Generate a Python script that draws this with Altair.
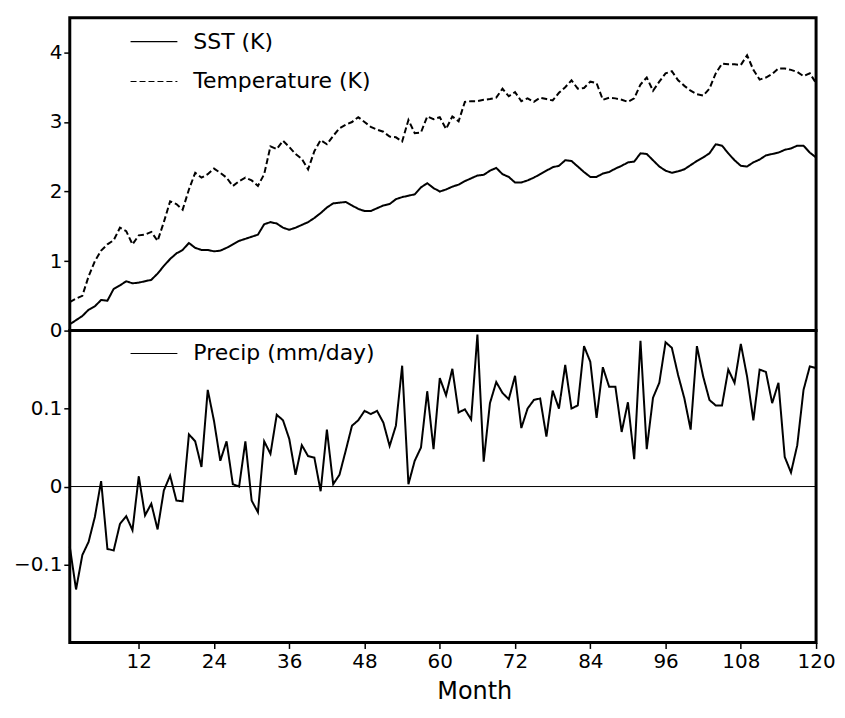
import altair as alt
import pandas as pd

months = list(range(1, 121))

sst = [
    0.09, 0.15, 0.21, 0.30, 0.35, 0.44, 0.43, 0.60, 0.65, 0.71,
    0.68, 0.69, 0.71, 0.73, 0.82, 0.93, 1.03, 1.11, 1.16, 1.26,
    1.19, 1.16, 1.16, 1.14, 1.15, 1.19, 1.24, 1.29, 1.32, 1.35,
    1.38, 1.53, 1.56, 1.54, 1.48, 1.45, 1.48, 1.52, 1.56, 1.62,
    1.69, 1.77, 1.83, 1.84, 1.85, 1.80, 1.75, 1.72, 1.72, 1.76,
    1.80, 1.82, 1.89, 1.92, 1.94, 1.96, 2.06, 2.12, 2.05, 2.00,
    2.03, 2.07, 2.10, 2.15, 2.19, 2.23, 2.24, 2.30, 2.34, 2.25,
    2.21, 2.13, 2.13, 2.16, 2.20, 2.25, 2.30, 2.35, 2.37, 2.45,
    2.44, 2.36, 2.28, 2.21, 2.21, 2.26, 2.28, 2.33, 2.37, 2.42,
    2.43, 2.55, 2.54, 2.45, 2.36, 2.30, 2.27, 2.29, 2.32, 2.38,
    2.44, 2.49, 2.55, 2.68, 2.66, 2.55, 2.45, 2.37, 2.36, 2.42,
    2.46, 2.52, 2.54, 2.56, 2.60, 2.62, 2.66, 2.66, 2.56, 2.49,
]

temperature = [
    0.41, 0.46, 0.50, 0.78, 1.00, 1.15, 1.24, 1.30, 1.48, 1.43,
    1.24, 1.37, 1.38, 1.42, 1.29, 1.56, 1.86, 1.82, 1.74, 2.03,
    2.27, 2.20, 2.25, 2.33, 2.27, 2.20, 2.08, 2.15, 2.20, 2.16,
    2.08, 2.25, 2.65, 2.61, 2.73, 2.64, 2.54, 2.47, 2.32, 2.58,
    2.74, 2.68, 2.80, 2.91, 2.96, 3.00, 3.07, 3.00, 2.93, 2.89,
    2.86, 2.79, 2.78, 2.72, 3.03, 2.84, 2.85, 3.08, 3.04, 3.07,
    2.90, 3.08, 3.01, 3.29, 3.30, 3.30, 3.32, 3.33, 3.35, 3.48,
    3.37, 3.43, 3.30, 3.34, 3.29, 3.35, 3.33, 3.31, 3.42, 3.50,
    3.60, 3.48, 3.49, 3.58, 3.56, 3.32, 3.35, 3.34, 3.32, 3.29,
    3.34, 3.54, 3.64, 3.45, 3.58, 3.70, 3.73, 3.60, 3.52, 3.45,
    3.40, 3.38, 3.48, 3.70, 3.84, 3.83, 3.83, 3.82, 3.96, 3.75,
    3.61, 3.64, 3.69, 3.77, 3.77, 3.75, 3.72, 3.66, 3.70, 3.56,
]

precip = [
    -0.077, -0.132, -0.088, -0.071, -0.039, 0.007, -0.080, -0.082, -0.048, -0.038,
    -0.056, 0.013, -0.037, -0.022, -0.055, -0.005, 0.014, -0.018, -0.019, 0.067,
    0.058, 0.025, 0.124, 0.084, 0.033, 0.058, 0.003, 0.000, 0.058, -0.018,
    -0.033, 0.058, 0.042, 0.092, 0.085, 0.061, 0.015, 0.053, 0.039, 0.037,
    -0.006, 0.073, 0.003, 0.015, 0.046, 0.078, 0.085, 0.097, 0.093, 0.097,
    0.082, 0.052, 0.078, 0.155, 0.003, 0.033, 0.050, 0.122, 0.048, 0.139,
    0.117, 0.151, 0.095, 0.099, 0.086, 0.195, 0.032, 0.107, 0.134, 0.120,
    0.112, 0.142, 0.075, 0.100, 0.111, 0.113, 0.064, 0.123, 0.100, 0.156,
    0.100, 0.104, 0.180, 0.160, 0.088, 0.153, 0.128, 0.128, 0.070, 0.108,
    0.035, 0.187, 0.048, 0.114, 0.133, 0.185, 0.178, 0.143, 0.113, 0.073,
    0.180, 0.141, 0.111, 0.104, 0.104, 0.150, 0.133, 0.183, 0.141, 0.085,
    0.150, 0.147, 0.107, 0.133, 0.038, 0.018, 0.053, 0.124, 0.154, 0.152,
]

top_labels = ["SST (K)", "Temperature (K)"]
bottom_label = "Precip (mm/day)"
top_ticks = [0, 1, 2, 3, 4]
bottom_ticks = [-0.1, 0, 0.1]
month_ticks = [12, 24, 36, 48, 60, 72, 84, 96, 108, 120]
zero_level = [0]

FONT = "DejaVu Sans"
PLOT_W = 749

top_df = pd.DataFrame({
    "month": months + months,
    "value": sst + temperature,
    "series": [top_labels[0]] * len(months) + [top_labels[1]] * len(months),
})
bot_df = pd.DataFrame({
    "month": months,
    "value": precip,
    "series": [bottom_label] * len(months),
})
zero_df = pd.DataFrame({"level": zero_level})

x_scale = alt.Scale(domain=[1, 120], nice=False, zero=False)

legend_common = dict(
    orient="none", title=None, symbolType="stroke", symbolSize=2209,
    symbolStrokeWidth=1.2, symbolStrokeColor="black", labelFont=FONT,
    labelFontSize=22, labelColor="black", labelOffset=15, labelLimit=500,
    clipHeight=40, rowPadding=0, padding=0, legendX=60,
)

y_axis_common = dict(title=None, labelFlush=False, labelOverlap=False,
                     labelPadding=2, format="~g")

top = alt.Chart(top_df).mark_line(color="black", strokeWidth=2).encode(
    x=alt.X("month:Q", scale=x_scale, axis=None),
    y=alt.Y("value:Q", scale=alt.Scale(domain=[0, 4.5], nice=False),
            axis=alt.Axis(values=top_ticks, **y_axis_common)),
    strokeDash=alt.StrokeDash(
        "series:N",
        scale=alt.Scale(domain=top_labels, range=[[1, 0], [6, 3]]),
        legend=alt.Legend(legendY=4, **legend_common),
    ),
).properties(width=PLOT_W, height=314)

bot_line = alt.Chart(bot_df).mark_line(color="black", strokeWidth=2).encode(
    x=alt.X("month:Q", scale=x_scale,
            axis=alt.Axis(values=month_ticks, title="Month", labelFlush=False,
                          labelOverlap=False, labelPadding=3,
                          titleX=406, titleY=56, titleAlign="center",
                          titleBaseline="alphabetic")),
    y=alt.Y("value:Q", scale=alt.Scale(domain=[-0.2, 0.2], nice=False),
            axis=alt.Axis(values=bottom_ticks, **y_axis_common)),
    strokeDash=alt.StrokeDash(
        "series:N",
        scale=alt.Scale(domain=[bottom_label], range=[[1, 0]]),
        legend=alt.Legend(legendY=3, **legend_common),
    ),
)

zero_line = alt.Chart(zero_df).mark_rule(color="black", strokeWidth=1).encode(
    y=alt.Y("level:Q")
)

bottom = alt.layer(zero_line, bot_line).properties(width=PLOT_W, height=313)

chart = alt.vconcat(top, bottom, spacing=0, bounds="flush").resolve_scale(
    strokeDash="independent"
).resolve_legend(
    strokeDash="independent"
).configure_view(
    stroke="black", strokeWidth=3
).configure_axis(
    domain=False, grid=False, labelFont=FONT, labelFontSize=20,
    labelColor="black", tickColor="black", tickWidth=1.5, tickSize=6,
    titleFont=FONT, titleFontSize=24, titleFontWeight="normal",
    titleColor="black",
).properties(
    padding={"left": 3, "top": 6.5, "right": 0, "bottom": 0},
    background="white",
)

chart.save("out.html", embed_options={"renderer": "svg", "actions": False})
